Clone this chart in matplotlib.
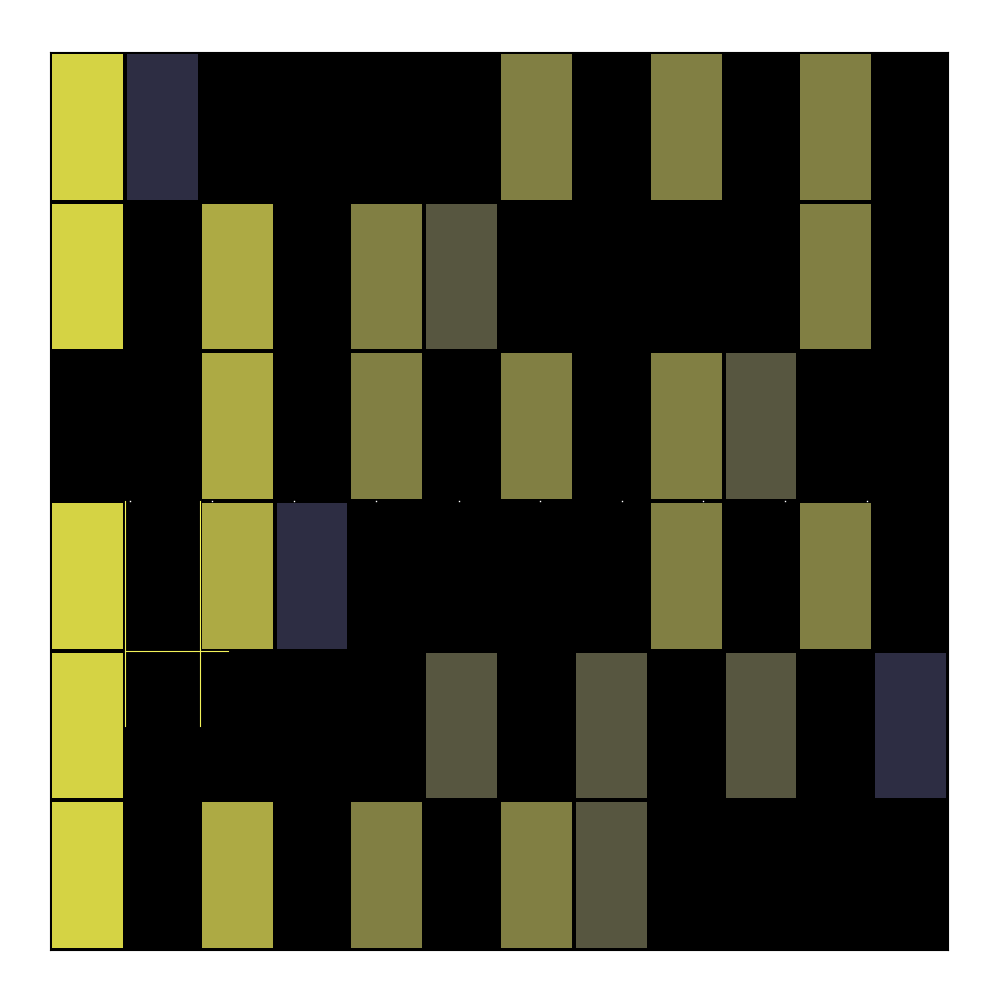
import numpy as np
import matplotlib
matplotlib.use("Agg")
import matplotlib.pyplot as plt
from matplotlib.colors import ListedColormap, BoundaryNorm

# colour levels, 0 = empty (black)
level_colors = ["#000000", "#2d2d43", "#575640", "#817f43", "#adaa44", "#d5d344"]

# grid values, top row first (6 rows x 12 columns)
row0 = [5, 1, 0, 0, 0, 0, 3, 0, 3, 0, 3, 0]
row1 = [5, 0, 4, 0, 3, 2, 0, 0, 0, 0, 3, 0]
row2 = [0, 0, 4, 0, 3, 0, 3, 0, 3, 2, 0, 0]
row3 = [5, 0, 4, 1, 0, 0, 0, 0, 3, 0, 3, 0]
row4 = [5, 0, 0, 0, 0, 2, 0, 2, 0, 2, 0, 1]
row5 = [5, 0, 4, 0, 3, 0, 3, 2, 0, 0, 0, 0]

# stray marks seen in the picture
seg_x = [[1, 1], [2, 2], [1, 2.38]]
seg_y = [[3, 4.5], [3, 4.5], [4, 4]]
dot_x = [1.07, 2.16, 3.26, 4.36, 5.47, 6.55, 7.64, 8.73, 9.82, 10.92]

grid = np.array([row0, row1, row2, row3, row4, row5])

fig = plt.figure(figsize=(10, 10), dpi=100)
ax = fig.add_axes([0.05, 0.05, 0.898, 0.898])
ax.set_facecolor("black")

cmap = ListedColormap(level_colors)
norm = BoundaryNorm(np.arange(-0.5, 6.5, 1), cmap.N)
ax.pcolormesh(np.arange(13), np.arange(7), grid, cmap=cmap, norm=norm,
              edgecolors="black", linewidth=1.6)

for xs, ys in zip(seg_x, seg_y):
    ax.plot(xs, ys, color="#f2f25a", lw=0.8)
ax.plot(dot_x, [3.0] * len(dot_x), ls="none", marker="s", ms=1,
        color="white", mew=0)

ax.set_xlim(0, 12)
ax.set_ylim(6, 0)
ax.set_xticks([])
ax.set_yticks([])
for s in ax.spines.values():
    s.set_color("black")

plt.savefig("out.png")
